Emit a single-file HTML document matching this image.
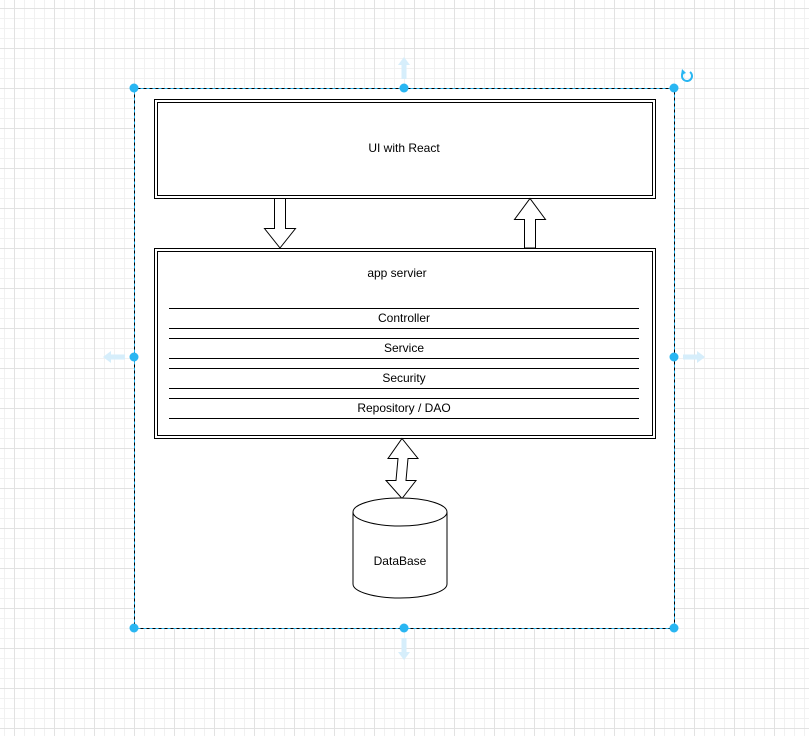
<!DOCTYPE html>
<html><head><style>
html,body{margin:0;padding:0;width:809px;height:736px;overflow:hidden;background:#fff}
</style></head><body>
<svg width="809" height="736" xmlns="http://www.w3.org/2000/svg" font-family="Liberation Sans, sans-serif">
<defs>
<pattern id="minor" width="10" height="10" patternUnits="userSpaceOnUse" x="4" y="8">
<path d="M0 0.5H10M0.5 0V10" stroke="#f1f1f1" fill="none"/>
</pattern>
<pattern id="major" width="40" height="40" patternUnits="userSpaceOnUse" x="14" y="8">
<path d="M0 0.5H40M0.5 0V40" stroke="#e2e2e2" fill="none"/>
</pattern>
</defs>
<rect width="809" height="736" fill="url(#minor)"/>
<rect width="809" height="736" fill="url(#major)"/>
<rect x="134" y="88" width="540" height="540" fill="#fff"/>
<rect x="134.5" y="88.5" width="540" height="540" fill="none" stroke="#000" stroke-width="1"/>
<rect x="134.5" y="88.5" width="540" height="540" fill="none" stroke="#29b6f2" stroke-width="1" stroke-dasharray="3 3"/>

<g fill="none" stroke="#000">
<rect x="154.5" y="99.5" width="501" height="99"/>
<rect x="157.5" y="102.5" width="495" height="93"/>
<rect x="154.5" y="248.5" width="501" height="190"/>
<rect x="157.5" y="251.5" width="495" height="184"/>
<path d="M169 308.5H639M169 328.5H639M169 338.5H639M169 358.5H639M169 368.5H639M169 388.5H639M169 398.5H639M169 418.5H639"/>
</g>
<g fill="#fff" stroke="#000">
<path d="M274.5 198.5H285.5V228.5H295.5L280 248L264.5 228.5H274.5Z"/>
<path d="M524.5 248H535.5V219.5H545.5L530 198.5L514.5 219.5H524.5Z"/>
<path d="M402 438.5L418 458.5H408L406 480.5H416L402 498.5L386 480.5H396L398 458.5H388Z"/>
<path d="M353 512V584A47 14 0 0 0 447 584V512"/>
<ellipse cx="400" cy="512" rx="47" ry="14"/>
</g>
<g font-size="12" fill="#000" text-anchor="middle">
<text x="404" y="152">UI with React</text>
<text x="397" y="277">app servier</text>
<text x="404" y="322">Controller</text>
<text x="404" y="352">Service</text>
<text x="404" y="382">Security</text>
<text x="404" y="412">Repository / DAO</text>
<text x="400" y="565">DataBase</text>
</g>

<g fill="#d6eefb">
<path d="M404 57L398 65H401.5V79H406.5V65H410Z"/>
<path d="M404 660L398 652H401.5V638H406.5V652H410Z"/>
<path d="M103 357L111 351V354.5H125V359.5H111V363Z"/>
<path d="M705 357L697 351V354.5H683V359.5H697V363Z"/>
</g>
<g fill="#29b6f2">
<circle cx="134" cy="88" r="4.5"/><circle cx="404" cy="88" r="4.5"/><circle cx="674" cy="88" r="4.5"/>
<circle cx="134" cy="357" r="4.5"/><circle cx="674" cy="357" r="4.5"/>
<circle cx="134" cy="628" r="4.5"/><circle cx="404" cy="628" r="4.5"/><circle cx="674" cy="628" r="4.5"/>
</g>
<path d="M690 72A5 5 0 1 1 683 73" fill="none" stroke="#29b6f2" stroke-width="2"/>
<path d="M682 69L686 73L681 75Z" fill="#29b6f2"/>
</svg>
</body></html>
